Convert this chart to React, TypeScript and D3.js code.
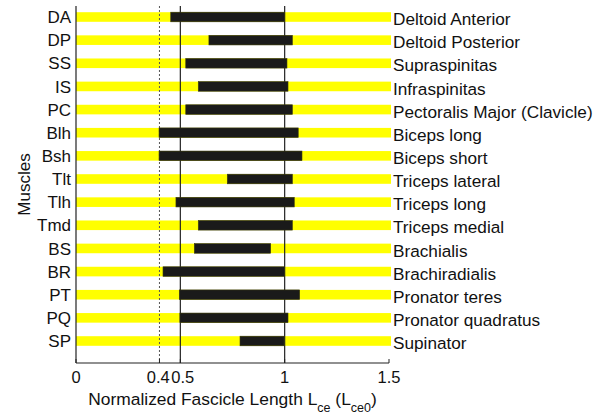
import React from "react";
import { scaleLinear } from "d3";

// muscle codes (y axis), full names (right side), fascicle length range
const codes = ["DA", "DP", "SS", "IS", "PC", "Blh", "Bsh", "Tlt", "Tlh", "Tmd", "BS", "BR", "PT", "PQ", "SP"];
const names = [
  "Deltoid Anterior",
  "Deltoid Posterior",
  "Supraspinitas",
  "Infraspinitas",
  "Pectoralis Major (Clavicle)",
  "Biceps long",
  "Biceps short",
  "Triceps lateral",
  "Triceps long",
  "Triceps medial",
  "Brachialis",
  "Brachiradialis",
  "Pronator teres",
  "Pronator quadratus",
  "Supinator",
];
const minLen = [0.454, 0.637, 0.526, 0.586, 0.526, 0.398, 0.398, 0.725, 0.479, 0.586, 0.567, 0.417, 0.495, 0.498, 0.786];
const maxLen = [1.0, 1.037, 1.011, 1.016, 1.037, 1.065, 1.083, 1.037, 1.046, 1.037, 0.933, 1.0, 1.072, 1.016, 0.997];
const xTicks = [0, 0.4, 0.5, 1, 1.5];
const refLines = [0.4, 0.5, 1];
const xMax = 1.5;

const width = 607;
const height = 420;
const plotLeft = 76;
const plotRight = 389;
const plotTop = 6;
const plotBottom = 363;
const barH = 9.6;
const font = '"Liberation Sans", Arial, sans-serif';

// tick labels 0.4 and 0.5 sit side by side, nudge them apart a little
const tickNudge = (t: number) => (t === 0.4 ? -1.2 : t === 0.5 ? 2.4 : 0);

const App = () => {
  const x = scaleLinear().domain([0, xMax]).range([plotLeft, plotRight]);
  const y = scaleLinear().domain([0, codes.length - 1]).range([17, 341]);

  return (
    <svg
      width={width}
      height={height}
      style={{ position: "absolute", left: 0, top: 0, background: "#fff" }}
      fontFamily={font}
    >
      {/* yellow full-range bars */}
      {codes.map((c, i) => (
        <rect
          key={"y" + c}
          x={x(0)}
          y={y(i) - barH / 2}
          width={x(xMax) - x(0) + 2}
          height={barH}
          fill="#ffff00"
        />
      ))}
      {/* reference lines */}
      {refLines.map(v => (
        <line
          key={"r" + v}
          x1={x(v)}
          x2={x(v)}
          y1={plotTop}
          y2={plotBottom}
          stroke={v === 0.4 ? "#555" : "#222"}
          strokeWidth={v === 0.4 ? 1 : 1.2}
          strokeDasharray={v === 0.4 ? "2,2" : undefined}
        />
      ))}
      {/* black operating range bars */}
      {codes.map((c, i) => (
        <rect
          key={"b" + c}
          x={x(minLen[i])}
          y={y(i) - barH / 2}
          width={x(maxLen[i]) - x(minLen[i])}
          height={barH}
          fill="#1a1a1a"
          stroke="#3a3a10"
          strokeWidth={0.6}
        />
      ))}
      {/* axes */}
      <line x1={plotLeft} x2={plotLeft} y1={plotTop} y2={plotBottom} stroke="#222" strokeWidth={1.2} />
      <line x1={plotLeft} x2={plotRight} y1={plotBottom} y2={plotBottom} stroke="#222" strokeWidth={1.2} />
      {xTicks.map(t => (
        <g key={"t" + t}>
          <line x1={x(t)} x2={x(t)} y1={plotBottom} y2={plotBottom - 4} stroke="#222" />
          <text x={x(t) + tickNudge(t)} y={383} textAnchor="middle" fontSize={16.5} fill="#111">
            {t}
          </text>
        </g>
      ))}
      {codes.map((c, i) => (
        <text key={"c" + c} x={71} y={y(i)} dy="0.36em" textAnchor="end" fontSize={17} fill="#111">
          {c}
        </text>
      ))}
      {names.map((n, i) => (
        <text key={"n" + n} x={393} y={y(i) + 2} dy="0.36em" fontSize={17.2} fill="#111">
          {n}
        </text>
      ))}
      <text
        transform={`translate(30,${(plotTop + plotBottom) / 2}) rotate(-90)`}
        textAnchor="middle"
        fontSize={17}
        fill="#111"
      >
        Muscles
      </text>
      <text x={(plotLeft + plotRight) / 2} y={405} textAnchor="middle" fontSize={17.4} fill="#111">
        Normalized Fascicle Length L
        <tspan fontSize={12.5} dy={7}>ce</tspan>
        <tspan dy={-7}> (L</tspan>
        <tspan fontSize={12.5} dy={7}>ce0</tspan>
        <tspan dy={-7}>)</tspan>
      </text>
    </svg>
  );
};

export default App;
